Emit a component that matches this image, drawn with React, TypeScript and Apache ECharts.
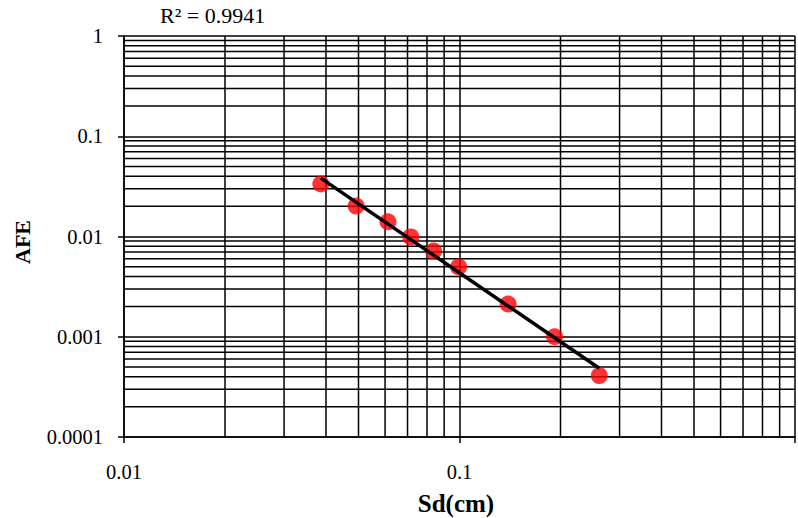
import React, { useEffect, useRef } from "react";
import * as echarts from "echarts";

const sdValues = [0.0386, 0.0492, 0.0612, 0.0716, 0.0837, 0.0994, 0.1396, 0.192, 0.261];
const afeValues = [0.0334, 0.0201, 0.014, 0.0099, 0.00716, 0.00497, 0.00212, 0.001, 0.00041];
const rSquaredText = "R² = 0.9941";
const xDecades = [0.01, 0.1];
const yDecades = [0.0001, 0.001, 0.01, 0.1];
const minorMultipliers = [2, 3, 4, 5, 6, 7, 8, 9];
const X_MIN = 0.01, X_MAX = 1, Y_MIN = 0.0001, Y_MAX = 1;

function powerFit(xs: number[], ys: number[]) {
  const lx = xs.map((v) => Math.log10(v));
  const ly = ys.map((v) => Math.log10(v));
  const n = lx.length;
  const mx = lx.reduce((a, b) => a + b, 0) / n;
  const my = ly.reduce((a, b) => a + b, 0) / n;
  let sxy = 0, sxx = 0;
  for (let i = 0; i < n; i++) {
    sxy += (lx[i] - mx) * (ly[i] - my);
    sxx += (lx[i] - mx) ** 2;
  }
  const b = sxy / sxx;
  const a = my - b * mx;
  return (x: number) => Math.pow(10, a + b * Math.log10(x));
}

function fmt(v: number) {
  if (v >= 1) return String(Math.round(v));
  const d = Math.round(-Math.log10(v));
  return v.toFixed(d);
}

export default function App() {
  const ref = useRef<HTMLDivElement>(null);
  useEffect(() => {
    document.body.style.margin = "0";
    const chart = echarts.init(ref.current!, undefined, { renderer: "svg" });
    const fit = powerFit(sdValues, afeValues);
    const xMin = Math.min(...sdValues);
    const xMax = Math.max(...sdValues);
    const fitLine = [
      [xMin, fit(xMin)],
      [xMax, fit(xMax)],
    ];
    const minorX: number[] = [];
    xDecades.forEach((d) => minorMultipliers.forEach((m) => minorX.push(d * m)));
    const minorY: number[] = [];
    yDecades.forEach((d) => minorMultipliers.forEach((m) => minorY.push(d * m)));

    const font = "Liberation Serif";
    const gridColor = "#000";
    const gridWidth = 1.5;
    chart.setOption({
      animation: false,
      title: {
        text: rSquaredText,
        left: 160,
        top: 4,
        padding: 0,
        textStyle: { fontFamily: font, fontSize: 22, fontWeight: "normal", color: "#000" },
      },
      grid: { left: 124, top: 36, width: 676, height: 401 },
      xAxis: {
        type: "log",
        logBase: 10,
        min: X_MIN,
        max: X_MAX,
        axisLine: { show: true, lineStyle: { color: "#000", width: 1.5 } },
        axisTick: { show: true, inside: false, length: 6, lineStyle: { color: "#000", width: 1.5 } },
        axisLabel: {
          fontFamily: font,
          fontSize: 20.5,
          color: "#000",
          margin: 24,
          formatter: (v: number) => (v >= 1 ? "" : fmt(v)),
        },
        splitLine: { show: true, lineStyle: { color: gridColor, width: gridWidth } },
      },
      yAxis: {
        type: "log",
        logBase: 10,
        min: Y_MIN,
        max: Y_MAX,
        axisLine: { show: true, lineStyle: { color: "#000", width: 1.5 } },
        axisTick: { show: true, inside: false, length: 6, lineStyle: { color: "#000", width: 1.5 } },
        axisLabel: {
          fontFamily: font,
          fontSize: 20.5,
          color: "#000",
          margin: 21,
          formatter: (v: number) => fmt(v),
        },
        splitLine: { show: true, lineStyle: { color: gridColor, width: gridWidth } },
      },
      graphic: [
        {
          type: "text",
          x: 456,
          y: 503,
          style: {
            text: "Sd(cm)",
            fontFamily: font,
            fontSize: 25,
            fontWeight: "bold",
            fill: "#000",
            align: "center",
            verticalAlign: "middle",
          },
        },
        {
          type: "text",
          x: 22,
          y: 242,
          rotation: Math.PI / 2,
          style: {
            text: "AFE",
            fontFamily: font,
            fontSize: 22,
            fontWeight: "bold",
            fill: "#000",
            align: "center",
            verticalAlign: "middle",
          },
        },
      ],
      series: [
        {
          type: "custom",
          silent: true,
          data: minorY.map((v) => [X_MIN, v]),
          renderItem: (params: any, api: any) => {
            const v = api.value(1);
            const p1 = api.coord([X_MIN, v]);
            const p2 = api.coord([X_MAX, v]);
            return {
              type: "line",
              shape: { x1: p1[0], y1: p1[1], x2: p2[0], y2: p2[1] },
              style: { stroke: gridColor, lineWidth: gridWidth },
            };
          },
          z: 1,
        },
        {
          type: "custom",
          silent: true,
          data: minorX.map((v) => [v, Y_MIN]),
          renderItem: (params: any, api: any) => {
            const v = api.value(0);
            const p1 = api.coord([v, Y_MIN]);
            const p2 = api.coord([v, Y_MAX]);
            return {
              type: "line",
              shape: { x1: p1[0], y1: p1[1], x2: p2[0], y2: p2[1] },
              style: { stroke: gridColor, lineWidth: gridWidth },
            };
          },
          z: 1,
        },
        {
          type: "scatter",
          data: sdValues.map((x, i) => [x, afeValues[i]]),
          symbol: "circle",
          symbolSize: 17,
          itemStyle: { color: "#ff0000" },
          z: 3,
        },
        {
          type: "line",
          data: fitLine,
          showSymbol: false,
          symbol: "none",
          lineStyle: { color: "#000", width: 3.5 },
          z: 4,
        },
      ],
    });
    return () => chart.dispose();
  }, []);
  return <div ref={ref} style={{ width: 798, height: 518 }} />;
}
